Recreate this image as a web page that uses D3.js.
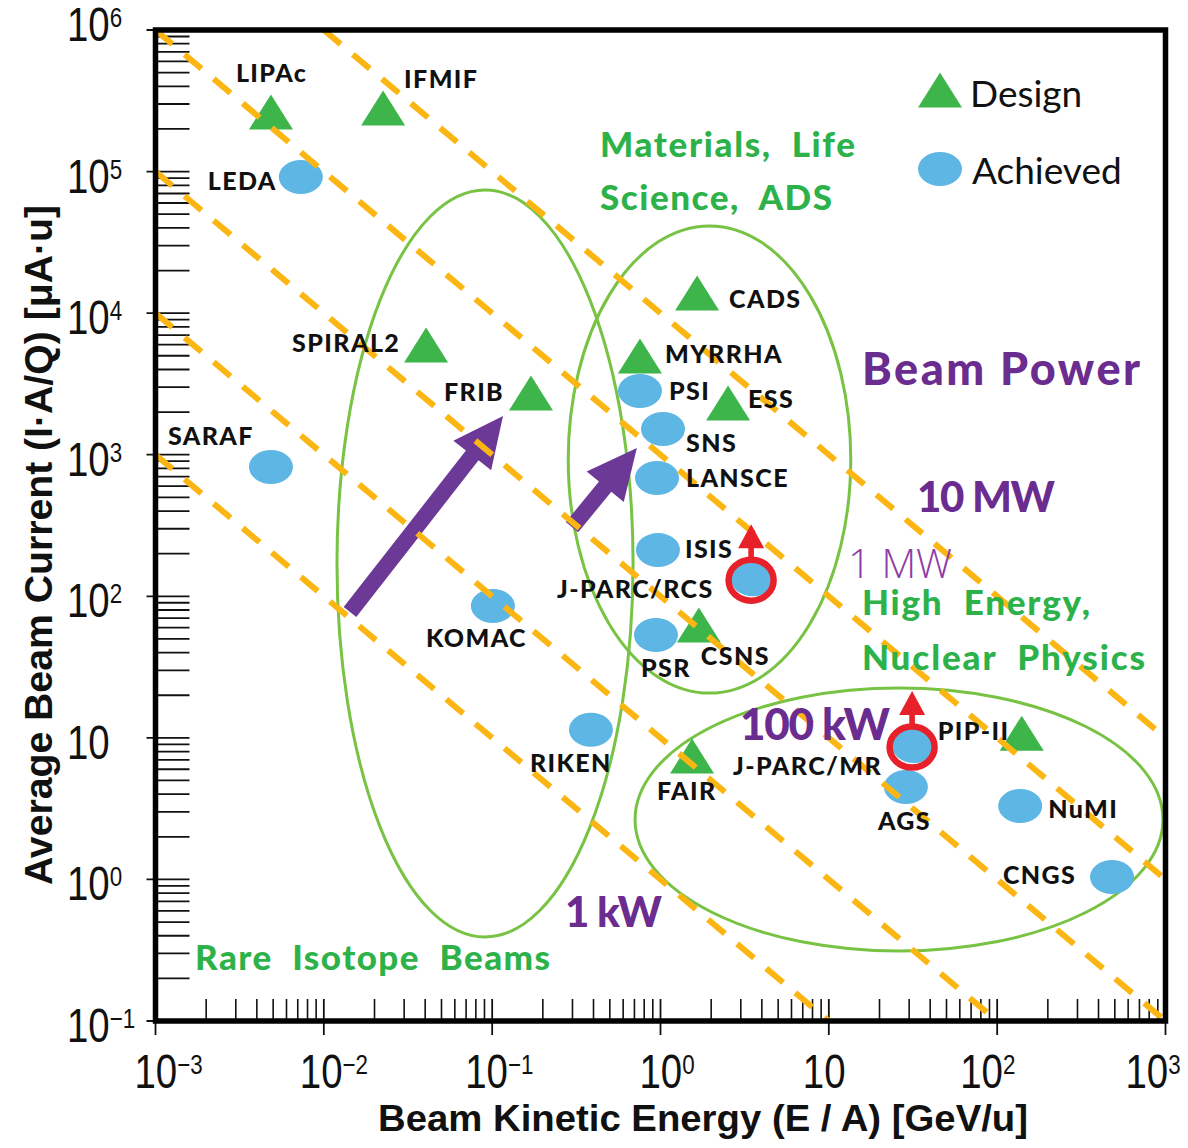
<!DOCTYPE html>
<html>
<head>
<meta charset="utf-8">
<script src="https://cdn.jsdelivr.net/npm/d3@7"></script>
<style>
body { margin: 0; background: #fff; }
</style>
</head>
<body>
<div id="chart-area"></div>
<script>
const WIDTH = 1188, HEIGHT = 1148
const PLOT = { LEFT: 155.5, RIGHT: 1165.5, TOP: 30, BOTTOM: 1021 }

const GREEN = "#2db24a", PURPLE = "#6b2c8f", GOLD = "#fcb614", RED = "#e8202a"

// design values (green triangles): energy GeV/u, current uA*u
const designNames = ["LIPAc", "IFMIF", "SPIRAL2", "FRIB", "CADS", "MYRRHA", "ESS", "CSNS", "FAIR", "PIP-II"]
const designEnergy = [0.00485, 0.0225, 0.0405, 0.17, 1.65, 0.755, 2.52, 1.69, 1.54, 140]
const designCurrent = [2.64e5, 2.81e5, 5960, 2730, 1.39e4, 4980, 2320, 62.7, 7.45, 10.8]

// achieved values (blue dots)
const achievedNames = ["LEDA", "SARAF", "KOMAC", "RIKEN", "PSI", "SNS", "LANSCE", "ISIS", "J-PARC/RCS", "PSR", "J-PARC/MR", "AGS", "NuMI", "CNGS"]
const achievedEnergy = [0.0073, 0.00485, 0.101, 0.386, 0.755, 1.035, 0.953, 0.966, 3.55, 0.94, 32.1, 28.7, 137, 481]
const achievedCurrent = [9.16e4, 819, 85.4, 11.4, 2820, 1520, 685, 212, 132, 53.3, 8.75, 4.5, 3.3, 1.04]

// facilities with a planned upgrade (red ring + arrow)
const upgraded = ["J-PARC/RCS", "J-PARC/MR"]

// constant beam power lines (kW): I*E = P
const powerLevels = [1, 10, 100, 1000, 10000]

// application regions, extents in energy and current
const regionE = [[0.01197, 0.687], [0.283, 13.5], [0.706, 966]]
const regionI = [[0.392, 7.41e4], [20.7, 4.13e4], [0.312, 22.5]]

// trend arrows [from, to]
const trendE = [[0.0143, 0.116], [0.298, 0.724]]
const trendI = [[77.4, 1877], [308, 1115]]

// axes
const xTicks = [1e-3, 1e-2, 1e-1, 1, 10, 100, 1000]
const xTickLabels = [["10", "\u22123"], ["10", "\u22122"], ["10", "\u22121"], ["10", "0"], ["10", ""], ["10", "2"], ["10", "3"]]
const yTicks = [1e-1, 1, 10, 100, 1e3, 1e4, 1e5, 1e6]
const yTickLabels = [["10", "\u22121"], ["10", "0"], ["10", ""], ["10", "2"], ["10", "3"], ["10", "4"], ["10", "5"], ["10", "6"]]
// small horizontal nudges of the x tick labels (px)
const xLabelNudge = [0, -3, -6, 0, -5, -16, -19]

// label placement relative to marker (px)
const labelPos = {
	"LIPAc": [-35, -30], "IFMIF": [21, -20], "SPIRAL2": [-134, 7], "FRIB": [-87, 8], "CADS": [32, 15],
	"MYRRHA": [25, 7], "ESS": [20, 5], "CSNS": [2, 40], "FAIR": [-35, 44], "PIP-II": [-84, 7],
	"LEDA": [-93, 13], "SARAF": [-103, -22], "KOMAC": [-67, 41], "RIKEN": [-61, 42], "PSI": [29, 9],
	"SNS": [23, 23], "LANSCE": [29, 9], "ISIS": [27, 8], "J-PARC/RCS": [-196, 19], "PSR": [-15, 42],
	"J-PARC/MR": [-181, 29], "AGS": [-28, 43], "NuMI": [28, 12], "CNGS": [-109, 7]
}

// text annotations
const notes = [
	{ text: "Materials,  Life", x: 600, y: 157, size: 35, color: GREEN, w: 255 },
	{ text: "Science,  ADS", x: 600, y: 210, size: 35, color: GREEN, w: 232 },
	{ text: "High  Energy,", x: 862, y: 615, size: 35, color: GREEN, w: 228 },
	{ text: "Nuclear  Physics", x: 862, y: 670, size: 35, color: GREEN, w: 283 },
	{ text: "Rare  Isotope  Beams", x: 195, y: 970, size: 35, color: GREEN, w: 355 },
	{ text: "Beam Power", x: 862, y: 385, size: 45, color: PURPLE, w: 278 },
	{ text: "10 MW", x: 917, y: 512, size: 42, color: PURPLE, w: 138 },
	{ text: "100 kW", x: 740, y: 740, size: 44, color: PURPLE, w: 150 },
	{ text: "1 kW", x: 565, y: 927, size: 42, color: PURPLE, w: 97 }
]

const x = d3.scaleLog().domain([1e-3, 1e3]).range([PLOT.LEFT, PLOT.RIGHT])
const y = d3.scaleLog().domain([1e-1, 1e6]).range([PLOT.BOTTOM, PLOT.TOP])

const svg = d3.select("#chart-area").append("svg")
	.attr("width", WIDTH)
	.attr("height", HEIGHT)
	.style("font-family", "Lato, 'Open Sans', sans-serif")

svg.append("defs").append("clipPath").attr("id", "plot-clip")
	.append("rect")
	.attr("x", PLOT.LEFT).attr("y", PLOT.TOP)
	.attr("width", PLOT.RIGHT - PLOT.LEFT).attr("height", PLOT.BOTTOM - PLOT.TOP)

// ticks
const ticksG = svg.append("g").attr("stroke", "#111")
d3.range(-3, 3).forEach(d => {
	d3.range(2, 10).forEach(m => {
		const xv = x(m * Math.pow(10, d))
		ticksG.append("line").attr("x1", xv).attr("x2", xv)
			.attr("y1", PLOT.BOTTOM).attr("y2", PLOT.BOTTOM - 22).attr("stroke-width", 1.6)
	})
})
d3.range(-1, 6).forEach(d => {
	d3.range(2, 10).forEach(m => {
		const yv = y(m * Math.pow(10, d))
		ticksG.append("line").attr("y1", yv).attr("y2", yv)
			.attr("x1", PLOT.LEFT).attr("x2", PLOT.LEFT + 34).attr("stroke-width", 1.8)
	})
})
xTicks.forEach(v => {
	ticksG.append("line").attr("x1", x(v)).attr("x2", x(v))
		.attr("y1", PLOT.BOTTOM - 22).attr("y2", PLOT.BOTTOM + 14).attr("stroke-width", 1.8)
})
yTicks.forEach(v => {
	ticksG.append("line").attr("y1", y(v)).attr("y2", y(v))
		.attr("x1", PLOT.LEFT - 9).attr("x2", PLOT.LEFT + 34).attr("stroke-width", 1.8)
})

// tick labels: narrow look via horizontal scaling
function powerLabel(parent, tx, ty, parts) {
	const t = parent.append("text")
		.attr("transform", `translate(${tx}, ${ty}) scale(0.8, 1)`)
		.attr("font-family", "'Liberation Sans', Arial, sans-serif")
		.attr("font-size", 48)
		.attr("fill", "#111")
	t.append("tspan").text(parts[0])
	if (parts[1]) t.append("tspan").attr("font-size", 28).attr("dy", -14).text(parts[1])
}
xTicks.forEach((v, i) => powerLabel(svg, x(v) - 21 + xLabelNudge[i], 1088, xTickLabels[i]))
yTicks.forEach((v, i) => powerLabel(svg, 67, i === yTicks.length - 1 ? y(v) + 11 : y(v) + 21, yTickLabels[i]))

// axis titles
svg.append("text")
	.attr("transform", `translate(52, 545) rotate(-90)`)
	.attr("text-anchor", "middle")
	.attr("font-family", "'Liberation Sans', Arial, sans-serif")
	.attr("font-weight", "bold")
	.attr("font-size", 38)
	.attr("textLength", 680)
	.attr("lengthAdjust", "spacingAndGlyphs")
	.attr("fill", "#111")
	.text("Average Beam Current (I\u00b7A/Q) [\u03bcA\u00b7u]")
svg.append("text")
	.attr("x", 703).attr("y", 1131)
	.attr("text-anchor", "middle")
	.attr("font-family", "'Liberation Sans', Arial, sans-serif")
	.attr("font-weight", "bold")
	.attr("font-size", 37)
	.attr("textLength", 650)
	.attr("lengthAdjust", "spacingAndGlyphs")
	.attr("fill", "#111")
	.text("Beam Kinetic Energy (E / A) [GeV/u]")

const plot = svg.append("g").attr("clip-path", "url(#plot-clip)")

// application regions
regionE.forEach((e, i) => {
	const x0 = x(e[0]), x1 = x(e[1]), y0 = y(regionI[i][1]), y1 = y(regionI[i][0])
	plot.append("ellipse")
		.attr("cx", (x0 + x1) / 2).attr("cy", (y0 + y1) / 2)
		.attr("rx", (x1 - x0) / 2).attr("ry", (y1 - y0) / 2)
		.attr("fill", "none")
		.attr("stroke", "#78c244")
		.attr("stroke-width", 3)
})

function arrowPath(x0, y0, x1, y1, shaftW, headL, headW) {
	const dx = x1 - x0, dy = y1 - y0, len = Math.hypot(dx, dy)
	const ux = dx / len, uy = dy / len, px = -uy, py = ux
	const bx = x1 - ux * headL, by = y1 - uy * headL
	const pts = [
		[x0 + px * shaftW, y0 + py * shaftW], [bx + px * shaftW, by + py * shaftW],
		[bx + px * headW, by + py * headW], [x1, y1],
		[bx - px * headW, by - py * headW], [bx - px * shaftW, by - py * shaftW],
		[x0 - px * shaftW, y0 - py * shaftW]
	]
	return "M" + pts.map(p => p.join(",")).join("L") + "Z"
}

// trend arrows
trendE.forEach((e, i) => {
	plot.append("path")
		.attr("d", arrowPath(x(e[0]), y(trendI[i][0]), x(e[1]), y(trendI[i][1]), 8, 50, 24))
		.attr("fill", "#6c3a96")
})

// markers
const triangle = "M0,-17.5L22,17.5L-22,17.5Z"
plot.selectAll(".achieved").data(achievedNames).enter().append("ellipse")
	.attr("class", "achieved")
	.attr("cx", (d, i) => x(achievedEnergy[i]))
	.attr("cy", (d, i) => y(achievedCurrent[i]))
	.attr("rx", 22).attr("ry", 17)
	.attr("fill", "#5db6e4")
plot.selectAll(".design").data(designNames).enter().append("path")
	.attr("class", "design")
	.attr("d", triangle)
	.attr("transform", (d, i) => `translate(${x(designEnergy[i])}, ${y(designCurrent[i])})`)
	.attr("fill", "#3db54a")

// beam power lines
const line = d3.line().x(d => x(d[0])).y(d => y(d[1]))
powerLevels.forEach(p => {
	const e0 = Math.max(x.domain()[0], p / y.domain()[1])
	const e1 = Math.min(x.domain()[1], p / y.domain()[0])
	plot.append("path")
		.attr("d", line([[e0, p / e0], [e1, p / e1]]))
		.attr("fill", "none")
		.attr("stroke", GOLD)
		.attr("stroke-width", 6)
		.attr("stroke-dasharray", "22,16")
})

// upgrades
upgraded.forEach(name => {
	const i = achievedNames.indexOf(name)
	const cx = x(achievedEnergy[i]), cy = y(achievedCurrent[i])
	plot.append("ellipse")
		.attr("cx", cx - 2).attr("cy", cy + 1)
		.attr("rx", 22.5).attr("ry", 20.5)
		.attr("fill", "none")
		.attr("stroke", RED)
		.attr("stroke-width", 6.5)
	plot.append("path")
		.attr("d", arrowPath(cx - 2, cy - 22, cx - 2, cy - 55, 2.8, 24, 13))
		.attr("fill", RED)
})

// point labels
const labels = svg.append("g")
	.attr("font-weight", 900)
	.attr("font-size", 25)
	.attr("letter-spacing", 1.4)
	.attr("fill", "#111")
designNames.concat(achievedNames).forEach(name => {
	let i = designNames.indexOf(name), px, py
	if (i >= 0) { px = x(designEnergy[i]); py = y(designCurrent[i]) }
	else { i = achievedNames.indexOf(name); px = x(achievedEnergy[i]); py = y(achievedCurrent[i]) }
	const off = labelPos[name]
	labels.append("text").attr("x", px + off[0]).attr("y", py + off[1]).text(name)
})

// annotations
notes.forEach(n => {
	svg.append("text")
		.attr("x", n.x).attr("y", n.y)
		.attr("font-weight", 900)
		.attr("font-size", n.size)
		.attr("fill", n.color)
		.attr("textLength", n.w)
		.attr("lengthAdjust", "spacing")
		.style("white-space", "pre")
		.text(n.text)
})
svg.append("text")
	.attr("x", 848).attr("y", 578)
	.attr("font-family", "'Open Sans', 'Noto Sans', sans-serif")
	.attr("font-weight", 300)
	.attr("font-size", 40)
	.attr("fill", "#8e3ca6")
	.attr("textLength", 104)
	.attr("lengthAdjust", "spacingAndGlyphs")
	.text("1 MW")

// legend
const legend = svg.append("g")
legend.append("path").attr("d", triangle).attr("transform", "translate(940, 90)").attr("fill", "#3db54a")
legend.append("ellipse").attr("cx", 940).attr("cy", 169).attr("rx", 22).attr("ry", 17).attr("fill", "#5db6e4")
legend.append("text").attr("x", 970).attr("y", 107).attr("font-size", 37).attr("fill", "#111").text("Design")
legend.append("text").attr("x", 972).attr("y", 184).attr("font-size", 37).attr("fill", "#111").text("Achieved")

// frame
svg.append("rect")
	.attr("x", PLOT.LEFT).attr("y", PLOT.TOP)
	.attr("width", PLOT.RIGHT - PLOT.LEFT).attr("height", PLOT.BOTTOM - PLOT.TOP)
	.attr("fill", "none")
	.attr("stroke", "#000")
	.attr("stroke-width", 5.5)
</script>
</body>
</html>
